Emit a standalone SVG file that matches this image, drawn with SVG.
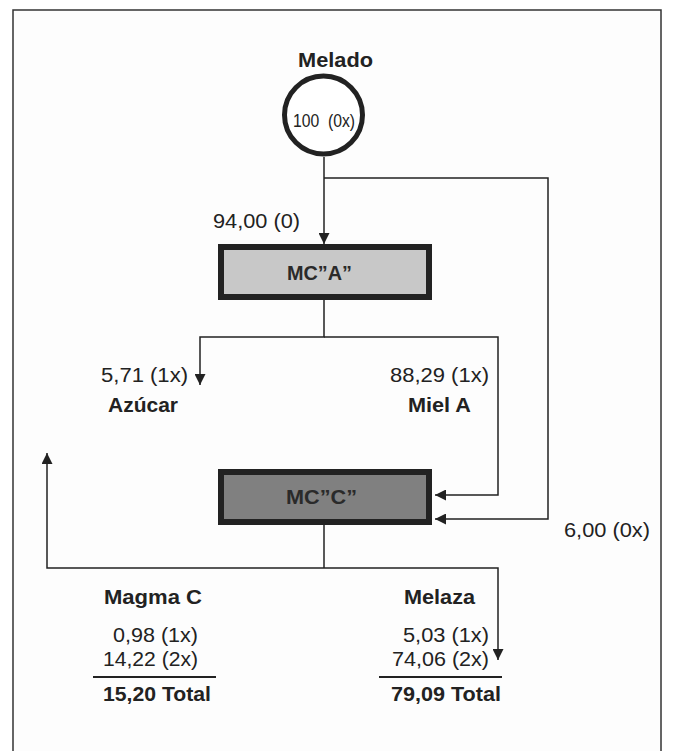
<svg xmlns="http://www.w3.org/2000/svg" width="673" height="751" viewBox="0 0 673 751">
  <style>
    .frame { fill: #fdfdfd; stroke: #333; stroke-width: 1.5; }
    .conn { fill: none; stroke: #222; stroke-width: 1.5; }
    .rule { fill: none; stroke: #222; stroke-width: 2; }
    .box { stroke: #222; stroke-width: 6; }
    .t { font-family: "Liberation Sans", Arial, sans-serif; fill: #222; }
    .reg { font-size: 20px; }
    .bold { font-size: 19.5px; font-weight: bold; }
    .boxlbl { font-size: 21px; font-weight: bold; fill: #2a2a2a; }
  </style>
  <defs>
    <marker id="arr" markerUnits="userSpaceOnUse" markerWidth="11" markerHeight="11" refX="11" refY="5.5" orient="auto">
      <path d="M0,0 L11,5.5 L0,11 z" fill="#222"/>
    </marker>
  </defs>

  <rect class="frame" x="13" y="10" width="648" height="760"/>

  <g id="connectors">
    <path class="conn" d="M324,157 V244" marker-end="url(#arr)"/>
    <path class="conn" d="M324,178 H548 V519 H435" marker-end="url(#arr)"/>
    <path class="conn" d="M324,300 V337 H200 V385" marker-end="url(#arr)"/>
    <path class="conn" d="M324,337 H498 V495 H435" marker-end="url(#arr)"/>
    <path class="conn" d="M324,525 V568"/>
    <path class="conn" d="M324,568 H47 V453" marker-end="url(#arr)"/>
    <path class="conn" d="M324,568 H498 V660" marker-end="url(#arr)"/>
  </g>

  <g id="melado">
    <circle cx="323.5" cy="115" r="39" fill="#fff" stroke="#222" stroke-width="5"/>
    <text class="t bold" x="298" y="67" textLength="75" lengthAdjust="spacingAndGlyphs">Melado</text>
    <text class="t" x="293" y="127" font-size="18" textLength="62" lengthAdjust="spacingAndGlyphs" xml:space="preserve">100  (0x)</text>
  </g>

  <g id="label-94">
    <text class="t reg" x="213" y="228" textLength="87" lengthAdjust="spacingAndGlyphs">94,00 (0)</text>
  </g>

  <g id="mca">
    <rect class="box" x="221" y="247" width="208" height="50" fill="#c8c8c8"/>
    <text class="t boxlbl" x="287" y="280" textLength="65" lengthAdjust="spacingAndGlyphs">MC”A”</text>
  </g>

  <g id="azucar">
    <text class="t reg" x="101" y="382" textLength="87" lengthAdjust="spacingAndGlyphs">5,71 (1x)</text>
    <text class="t bold" x="108" y="412" textLength="70" lengthAdjust="spacingAndGlyphs">Azúcar</text>
  </g>

  <g id="miel-a">
    <text class="t reg" x="390" y="382" textLength="99" lengthAdjust="spacingAndGlyphs">88,29 (1x)</text>
    <text class="t bold" x="408" y="412" textLength="63" lengthAdjust="spacingAndGlyphs">Miel A</text>
  </g>

  <g id="mcc">
    <rect class="box" x="221" y="472" width="208" height="50" fill="#808080"/>
    <text class="t boxlbl" x="286" y="504" textLength="71" lengthAdjust="spacingAndGlyphs">MC”C”</text>
  </g>

  <g id="label-6">
    <text class="t reg" x="564" y="537" textLength="86" lengthAdjust="spacingAndGlyphs">6,00 (0x)</text>
  </g>

  <g id="magma-c">
    <text class="t bold" x="104" y="604" textLength="98" lengthAdjust="spacingAndGlyphs">Magma C</text>
    <text class="t reg" x="113" y="642" textLength="85" lengthAdjust="spacingAndGlyphs">0,98 (1x)</text>
    <text class="t reg" x="103" y="666" textLength="95" lengthAdjust="spacingAndGlyphs">14,22 (2x)</text>
    <path class="rule" d="M93,677 H216"/>
    <text class="t bold" x="103" y="701" textLength="108" lengthAdjust="spacingAndGlyphs">15,20 Total</text>
  </g>

  <g id="melaza">
    <text class="t bold" x="404" y="604" textLength="71" lengthAdjust="spacingAndGlyphs">Melaza</text>
    <text class="t reg" x="403" y="642" textLength="86" lengthAdjust="spacingAndGlyphs">5,03 (1x)</text>
    <text class="t reg" x="392" y="666" textLength="97" lengthAdjust="spacingAndGlyphs">74,06 (2x)</text>
    <path class="rule" d="M379,677 H502"/>
    <text class="t bold" x="391" y="701" textLength="110" lengthAdjust="spacingAndGlyphs">79,09 Total</text>
  </g>
</svg>
